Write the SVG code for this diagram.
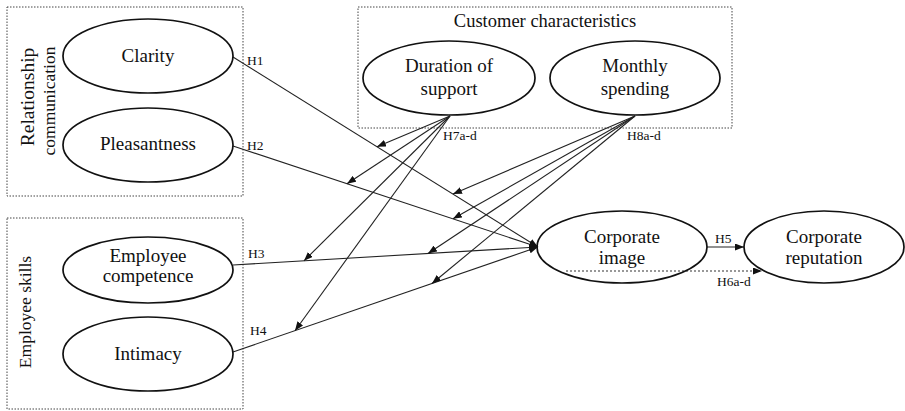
<svg xmlns="http://www.w3.org/2000/svg" width="905" height="411" viewBox="0 0 905 411">
<style>
text{font-family:"Liberation Serif","Times New Roman",serif;fill:#111}
.lbl{font-size:19px;text-anchor:middle}
.h{font-size:13.5px}
.grp{fill:none;stroke:#444;stroke-width:1;stroke-dasharray:1.5 1.5}
.node{fill:#fff;stroke:#111;stroke-width:1.7}
.c{stroke:#222;stroke-width:1.1;fill:none;marker-end:url(#ah)}
.dot{stroke:#333;stroke-width:1.1;fill:none;stroke-dasharray:2 2;marker-end:url(#ah)}
</style>
<defs>
<marker id="ah" markerWidth="9" markerHeight="7" refX="9" refY="3.5" orient="auto" markerUnits="userSpaceOnUse">
<path d="M0,0 L9,3.5 L0,7 z" fill="#111"/>
</marker>
</defs>
<rect width="905" height="411" fill="#fff"/>
<g id="group-relationship">
<rect class="grp" x="7" y="7" width="236" height="189"/>
<text transform="translate(34,97) rotate(-90)" style="font-size:19.5px;text-anchor:middle">Relationship</text>
<text transform="translate(55,101) rotate(-90)" style="font-size:17.5px;text-anchor:middle">communication</text>
</g>
<g id="group-employee">
<rect class="grp" x="7" y="218" width="236" height="191"/>
<text transform="translate(31,312) rotate(-90)" style="font-size:17.5px;text-anchor:middle">Employee skills</text>
</g>
<g id="group-customer">
<rect class="grp" x="358" y="7" width="374" height="121"/>
<text x="545" y="27" style="font-size:18.5px;text-anchor:middle">Customer characteristics</text>
</g>
<g id="connectors">
<line class="c" x1="233" y1="57" x2="538" y2="247"/>
<line class="c" x1="233" y1="146" x2="538" y2="247"/>
<line class="c" x1="233" y1="265" x2="538" y2="247"/>
<line class="c" x1="233" y1="352" x2="538" y2="247"/>
<line class="c" x1="450" y1="116" x2="377" y2="146.7"/>
<line class="c" x1="450" y1="116" x2="347" y2="183.7"/>
<line class="c" x1="450" y1="116" x2="304" y2="260.8"/>
<line class="c" x1="450" y1="116" x2="295" y2="330.7"/>
<line class="c" x1="635" y1="116" x2="453" y2="194"/>
<line class="c" x1="635" y1="116" x2="453" y2="218.8"/>
<line class="c" x1="635" y1="116" x2="428" y2="253.5"/>
<line class="c" x1="635" y1="116" x2="432" y2="283.5"/>
<line class="c" x1="707" y1="247" x2="744" y2="247"/>
<line class="dot" x1="566" y1="271" x2="762" y2="271"/>
<text class="h" x="247" y="65">H1</text>
<text class="h" x="247" y="150">H2</text>
<text class="h" x="248" y="258">H3</text>
<text class="h" x="250" y="335">H4</text>
<text class="h" x="443" y="140">H7a-d</text>
<text class="h" x="627" y="140">H8a-d</text>
<text class="h" x="715" y="243">H5</text>
<text class="h" x="717" y="286">H6a-d</text>
</g>
<g id="clarity">
<ellipse class="node" cx="148" cy="56" rx="85" ry="37"/>
<text class="lbl" x="148" y="62">Clarity</text>
</g>
<g id="pleasantness">
<ellipse class="node" cx="148" cy="145" rx="85" ry="37"/>
<text class="lbl" x="148" y="150">Pleasantness</text>
</g>
<g id="employee-competence">
<ellipse class="node" cx="148" cy="270" rx="85" ry="33"/>
<text class="lbl" x="148" y="262">Employee</text>
<text class="lbl" x="148" y="282">competence</text>
</g>
<g id="intimacy">
<ellipse class="node" cx="148" cy="354" rx="85" ry="37"/>
<text class="lbl" x="148" y="360">Intimacy</text>
</g>
<g id="duration">
<ellipse class="node" cx="449" cy="78" rx="86" ry="37"/>
<text class="lbl" x="449" y="72">Duration of</text>
<text class="lbl" x="449" y="95">support</text>
</g>
<g id="monthly">
<ellipse class="node" cx="635" cy="78" rx="85" ry="37"/>
<text class="lbl" x="635" y="72">Monthly</text>
<text class="lbl" x="635" y="95">spending</text>
</g>
<g id="corporate-image">
<ellipse class="node" cx="622" cy="247" rx="85" ry="36" style="fill:none"/>
<text class="lbl" x="622" y="243">Corporate</text>
<text class="lbl" x="622" y="264">image</text>
</g>
<g id="corporate-reputation">
<ellipse class="node" cx="824" cy="247" rx="80" ry="36"/>
<text class="lbl" x="824" y="243">Corporate</text>
<text class="lbl" x="824" y="264">reputation</text>
</g>
</svg>
